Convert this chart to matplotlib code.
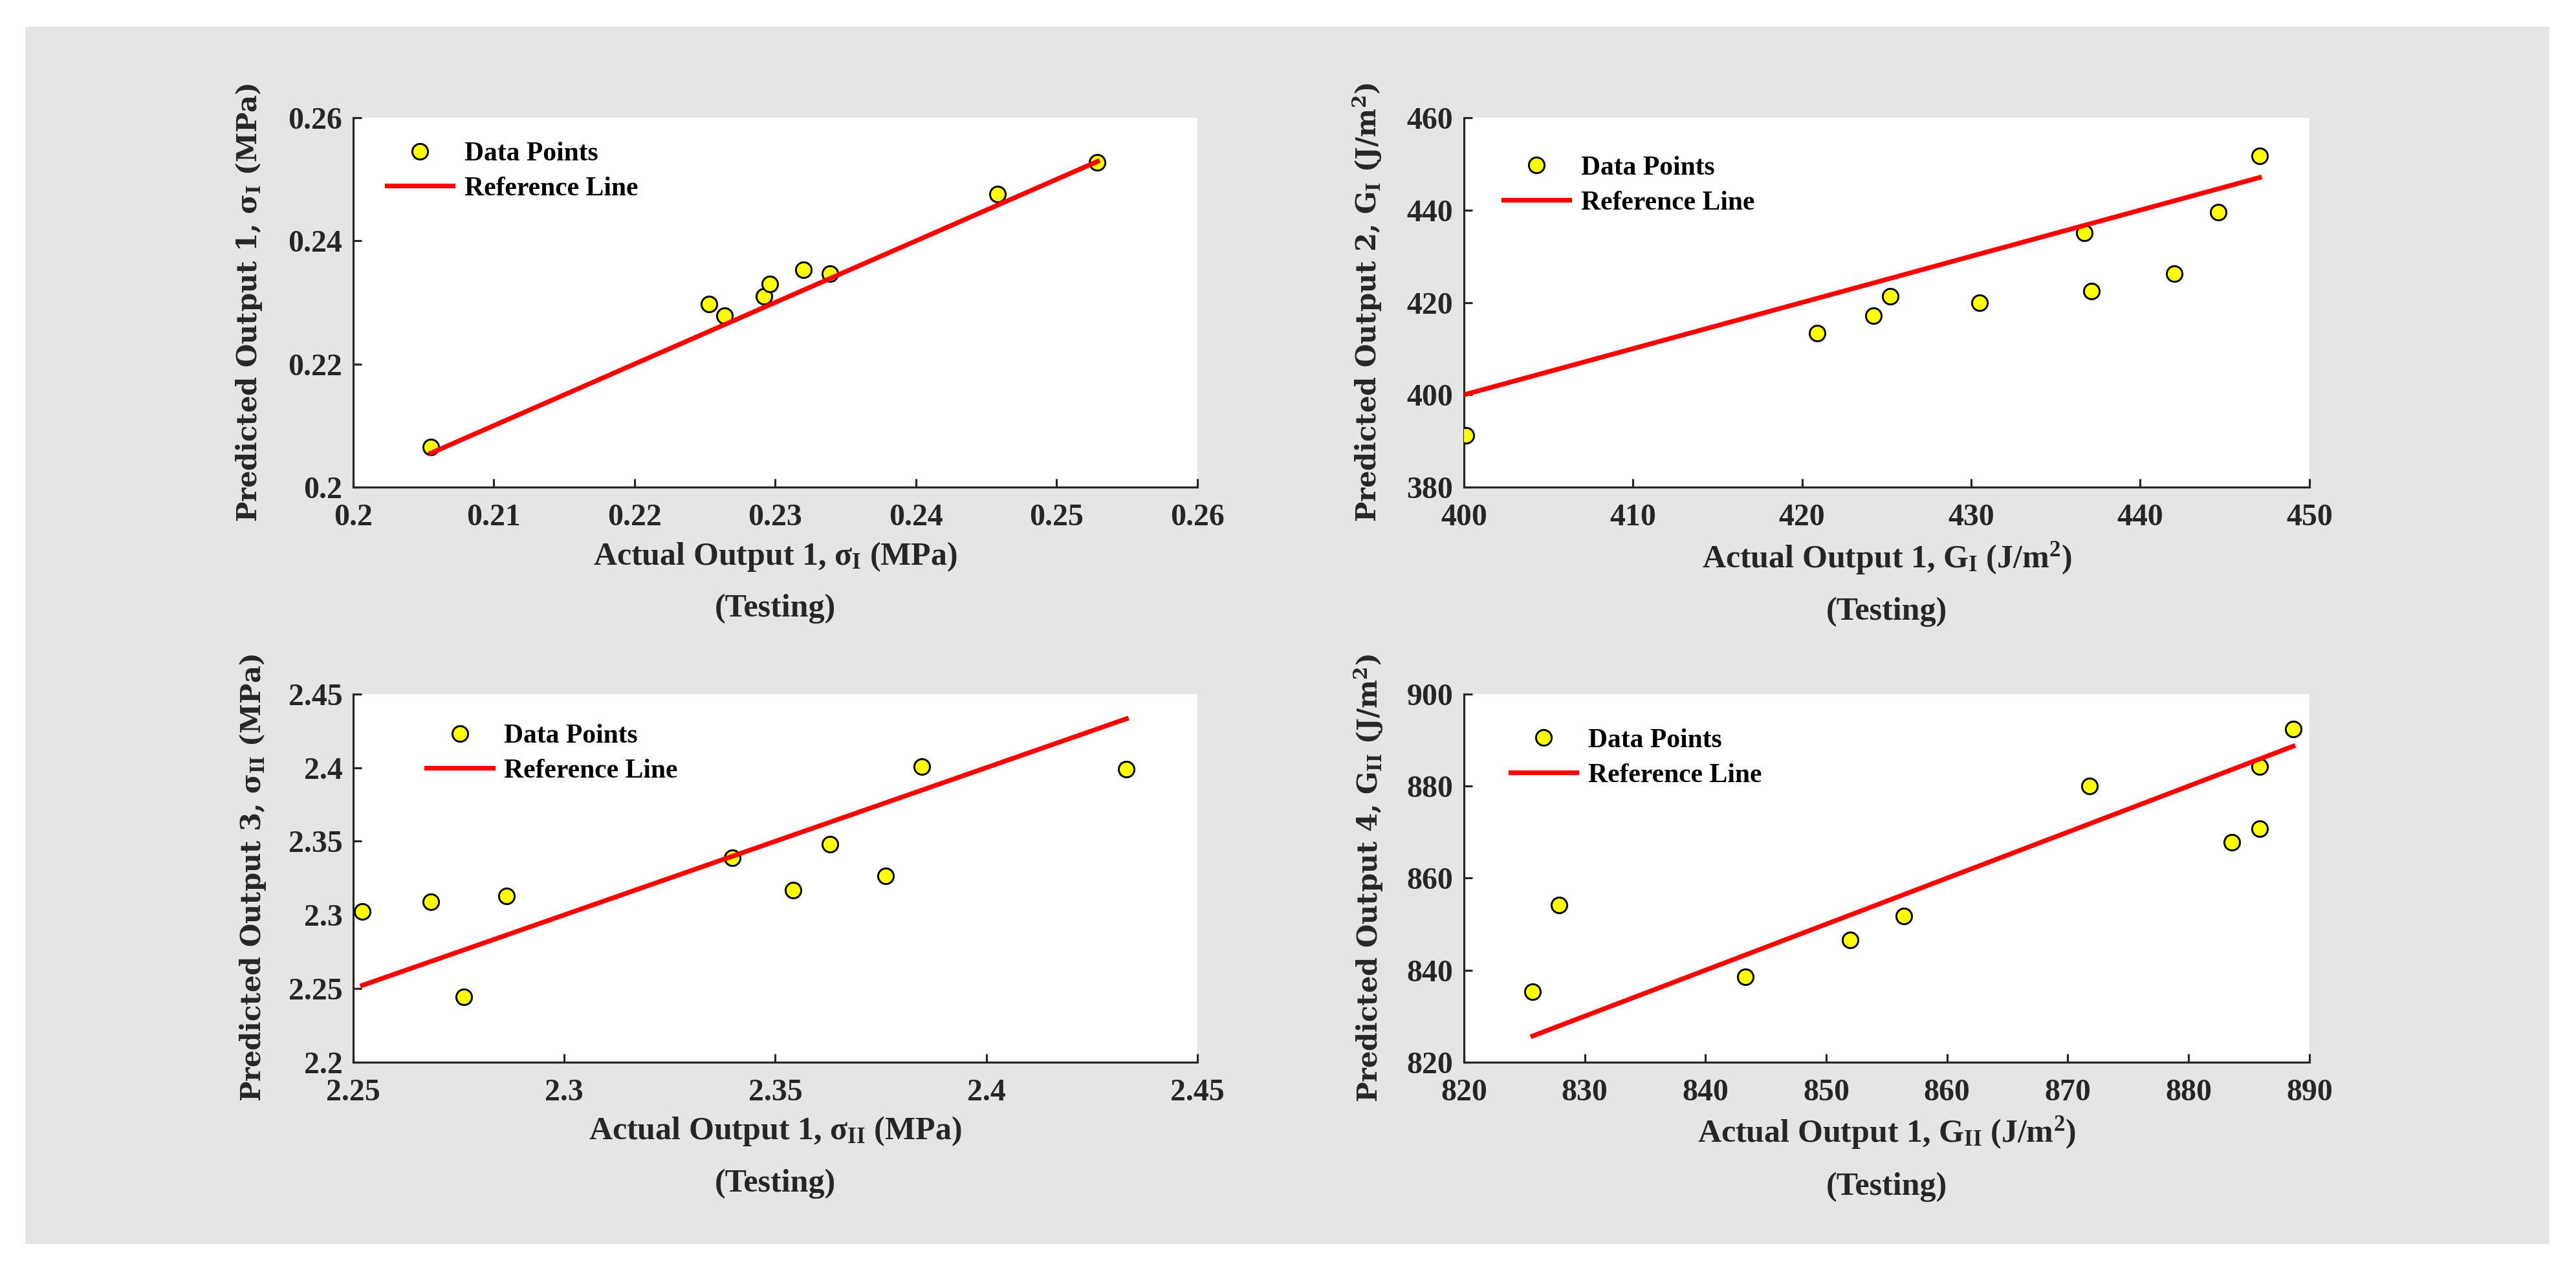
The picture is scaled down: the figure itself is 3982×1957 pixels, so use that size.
import numpy as np
import matplotlib
matplotlib.use('Agg')
import matplotlib.pyplot as plt
from matplotlib.patches import Rectangle
from matplotlib.ticker import FormatStrFormatter

plt.rcParams['font.family'] = ['Liberation Serif', 'DejaVu Serif']
plt.rcParams['font.weight'] = 'bold'
plt.rcParams['axes.labelweight'] = 'bold'
plt.rcParams['mathtext.fontset'] = 'custom'
plt.rcParams['mathtext.rm'] = 'Liberation Serif:bold'
plt.rcParams['mathtext.it'] = 'Liberation Serif:bold'
plt.rcParams['mathtext.bf'] = 'Liberation Serif:bold'

# testing data: actual vs predicted
actual_1 = [0.2055, 0.2253, 0.2264, 0.2292, 0.2296, 0.2320, 0.2339, 0.2458, 0.2529]
pred_1 = [0.2065, 0.2297, 0.2279, 0.2310, 0.2330, 0.2353, 0.2347, 0.2476, 0.2527]

actual_2 = [400.1, 420.9, 424.2, 425.2, 430.5, 436.7, 437.1, 442.0, 444.6, 447.05]
pred_2 = [391.2, 413.3, 417.1, 421.4, 420.0, 435.0, 422.4, 426.2, 439.6, 451.8]

actual_3 = [2.2522, 2.2684, 2.2762, 2.2864, 2.3399, 2.3542, 2.3630, 2.3761, 2.3847, 2.4332]
pred_3 = [2.3022, 2.3089, 2.2443, 2.3129, 2.3387, 2.3167, 2.3481, 2.3263, 2.4006, 2.3988]

actual_4 = [825.7, 827.9, 843.3, 852.0, 856.4, 871.8, 883.6, 885.9, 885.9, 888.65]
pred_4 = [835.3, 854.2, 838.5, 846.5, 851.7, 880.0, 867.8, 870.8, 884.2, 892.4]

xlabels = [r'Actual Output 1, σ$_\mathbf{I}$ (MPa)',
           r'Actual Output 1, G$_\mathbf{I}$ (J/m$^\mathbf{2}$)',
           r'Actual Output 1, σ$_\mathbf{II}$ (MPa)',
           r'Actual Output 1, G$_\mathbf{II}$ (J/m$^\mathbf{2}$)']
ylabels = [r'Predicted Output 1, σ$_\mathbf{I}$ (MPa)',
           r'Predicted Output 2, G$_\mathbf{I}$ (J/m$^\mathbf{2}$)',
           r'Predicted Output 3, σ$_\mathbf{II}$ (MPa)',
           r'Predicted Output 4, G$_\mathbf{II}$ (J/m$^\mathbf{2}$)']

xticks = [np.arange(0.2, 0.2601, 0.01), np.arange(400, 451, 10),
          np.arange(2.25, 2.4501, 0.05), np.arange(820, 891, 10)]
yticks = [np.arange(0.2, 0.2601, 0.02), np.arange(380, 461, 20),
          np.arange(2.2, 2.4501, 0.05), np.arange(820, 901, 20)]

actuals = [actual_1, actual_2, actual_3, actual_4]
preds = [pred_1, pred_2, pred_3, pred_4]

rects = [[0.1371, 0.6152, 0.3277, 0.2918], [0.5683, 0.6152, 0.3282, 0.2918],
         [0.1371, 0.1610, 0.3277, 0.2908], [0.5683, 0.1610, 0.3282, 0.2908]]
ylab_x = [-0.106, -0.095, -0.101, -0.093]
leg_pos = [(0.040, 0.935), (0.047, 0.897), (0.087, 0.919), (0.055, 0.907)]

dark = '#262626'

fig = plt.figure(figsize=(3982 / 300, 1957 / 300), dpi=300, facecolor='white')
fig.patches.append(Rectangle((39 / 3982, 1 - 1923 / 1957), (3941 - 39) / 3982, (1923 - 41) / 1957,
                             transform=fig.transFigure, facecolor='#e5e5e5', edgecolor='none', zorder=-10))

for i in range(4):
    ax = fig.add_axes(rects[i])
    ax.set_facecolor('white')
    a = np.array(actuals[i])
    p = np.array(preds[i])
    ax.plot(a, p, 'o', color='yellow', markeredgecolor='black', markersize=5.8,
            markeredgewidth=0.7, label='Data Points', zorder=3)
    ref = np.array([a.min(), a.max()])
    ax.plot(ref, ref, '-', color='red', lw=1.75, label='Reference Line', zorder=4)

    ax.set_xlim(xticks[i][0], xticks[i][-1])
    ax.set_ylim(yticks[i][0], yticks[i][-1])
    ax.set_xticks(xticks[i])
    ax.set_yticks(yticks[i])
    ax.xaxis.set_major_formatter(FormatStrFormatter('%g'))
    ax.yaxis.set_major_formatter(FormatStrFormatter('%g'))

    for s in ['top', 'right']:
        ax.spines[s].set_visible(False)
    for s in ['left', 'bottom']:
        ax.spines[s].set_color(dark)
        ax.spines[s].set_linewidth(0.75)
    ax.tick_params(direction='in', length=3.1, width=0.75, color=dark,
                   labelsize=11.5, labelcolor=dark)
    ax.tick_params(axis='x', pad=6)
    ax.tick_params(axis='y', pad=4)

    ax.set_xlabel(xlabels[i] + '\n(Testing)', fontsize=12, color=dark,
                  weight='bold', linespacing=1.9, labelpad=3)
    ax.set_ylabel(ylabels[i], fontsize=10, color=dark,
                  family='DejaVu Serif', weight='bold', math_fontfamily='dejavuserif')
    ax.yaxis.set_label_coords(ylab_x[i], 0.5)

    ax.legend(loc='upper left', bbox_to_anchor=leg_pos[i], frameon=False, fontsize=10,
              borderpad=0, handlelength=2.45, handletextpad=0.43, labelspacing=0.37,
              numpoints=1, borderaxespad=0, prop={'weight': 'bold', 'size': 10})

fig.savefig('out.png', dpi=300, facecolor='white')
